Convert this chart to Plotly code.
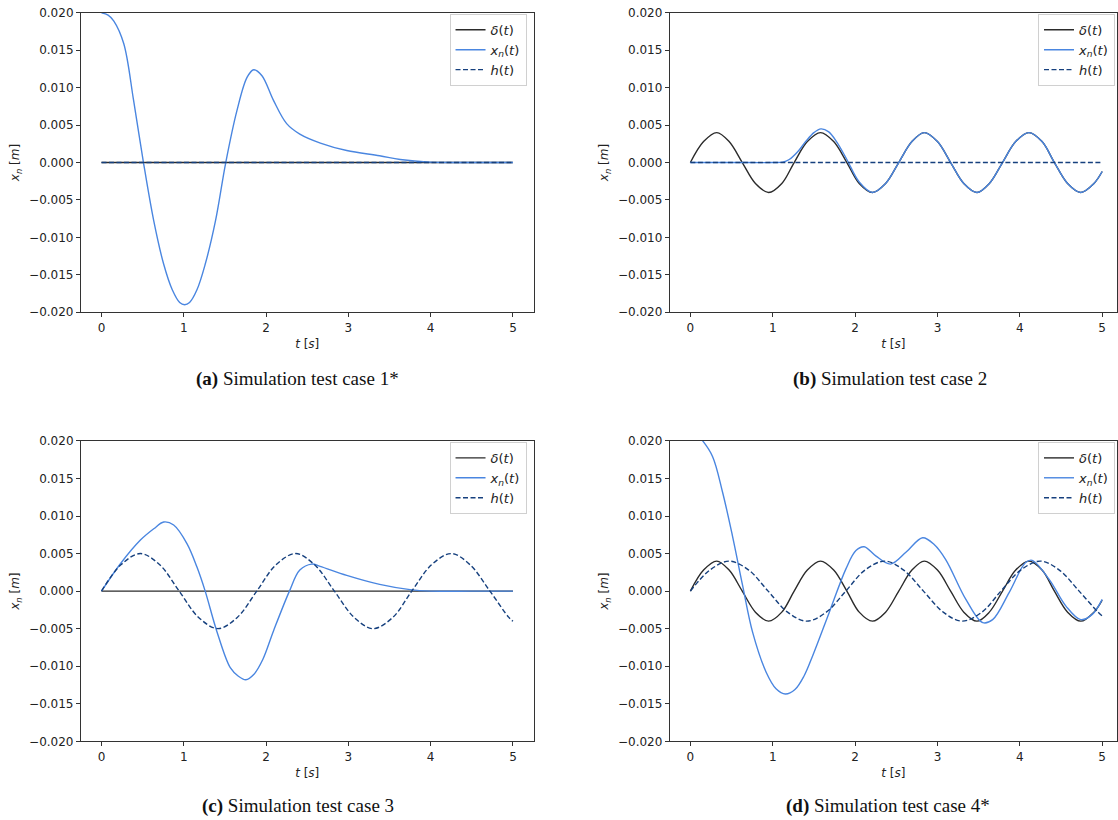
import plotly.graph_objects as go

# ---------------- data ----------------
# Panel (a) - test case 1*
a_t_zero = [0.0, 5.0]
a_delta = [0.0, 0.0]
a_h = [0.0, 0.0]
a_t_x = [0.0, 0.08, 0.15, 0.27, 0.39, 0.51, 0.635, 0.756, 0.86, 0.95, 1.01, 1.07, 1.16,
         1.26, 1.385, 1.51, 1.645, 1.77, 1.85, 1.95, 2.09, 2.25, 2.41, 2.66, 2.98, 3.38,
         3.63, 3.99, 4.5, 5.0]
a_x = [0.0200, 0.0197, 0.0189, 0.0159, 0.0083, 0.0, -0.0078, -0.0136, -0.0170, -0.0187,
       -0.0190, -0.0187, -0.0170, -0.0136, -0.0078, 0.0, 0.0069, 0.0114, 0.0124, 0.0116,
       0.0083, 0.0052, 0.0038, 0.0026, 0.0016, 0.0009, 0.0004, 0.00005, 0.0, 0.0]

# Panels (b) and (d) - road input delta(t)
bd_t_delta = [0.0, 0.16, 0.32, 0.47, 0.63, 0.79, 0.95, 1.11, 1.26, 1.42, 1.58, 1.74,
              1.90, 2.05, 2.21, 2.37, 2.53, 2.69, 2.84, 3.00, 3.16, 3.32, 3.48, 3.63,
              3.79, 3.95, 4.11, 4.27, 4.42, 4.58, 4.74, 4.90, 5.0]
bd_delta = [0.0, 0.0028, 0.0040, 0.0028, 0.0, -0.0028, -0.0040, -0.0028, 0.0, 0.0028,
            0.0040, 0.0028, 0.0, -0.0028, -0.0040, -0.0028, 0.0, 0.0028, 0.0040, 0.0028,
            0.0, -0.0028, -0.0040, -0.0028, 0.0, 0.0028, 0.0040, 0.0028, 0.0, -0.0028,
            -0.0040, -0.0028, -0.0012]

# Panel (b) - test case 2
b_t_x = [0.0, 0.5, 1.0, 1.12, 1.2, 1.3, 1.4, 1.5, 1.585, 1.68, 1.78, 1.90, 2.05, 2.21,
         2.37, 2.53, 2.69, 2.84, 3.00, 3.16, 3.32, 3.48, 3.63, 3.79, 3.95, 4.11, 4.27,
         4.42, 4.58, 4.74, 4.90, 5.0]
b_x = [0.0, 0.0, 0.0, 0.00005, 0.0004, 0.0014, 0.0028, 0.0040, 0.0045, 0.0041, 0.0027,
       0.0004, -0.0026, -0.0040, -0.0028, 0.0, 0.0028, 0.0040, 0.0028, 0.0, -0.0028,
       -0.0040, -0.0028, 0.0, 0.0028, 0.0040, 0.0028, 0.0, -0.0028, -0.0040, -0.0028,
       -0.0012]
b_t_zero = [0.0, 5.0]
b_h = [0.0, 0.0]

# Panel (c) - test case 3
c_t_zero = [0.0, 5.0]
c_delta = [0.0, 0.0]
c_t_h = [0.0, 0.236, 0.472, 0.708, 0.944, 1.18, 1.415, 1.65, 1.887, 2.12, 2.36, 2.59,
         2.83, 3.07, 3.30, 3.54, 3.77, 4.01, 4.25, 4.48, 4.72, 4.95, 5.0]
c_h = [0.0, 0.0035, 0.0050, 0.0035, 0.0, -0.0035, -0.0050, -0.0035, 0.0, 0.0035, 0.0050,
       0.0035, 0.0, -0.0035, -0.0050, -0.0035, 0.0, 0.0035, 0.0050, 0.0035, 0.0,
       -0.0035, -0.0040]
c_t_x = [0.0, 0.23, 0.473, 0.635, 0.756, 0.877, 1.04, 1.16, 1.26, 1.40, 1.565, 1.66,
         1.754, 1.85, 1.96, 2.09, 2.284, 2.41, 2.555, 2.656, 2.98, 3.38, 3.75, 4.0, 4.5,
         5.0]
c_x = [0.0, 0.00365, 0.0068, 0.0083, 0.0092, 0.0088, 0.0063, 0.0032, 0.0, -0.0053,
       -0.0102, -0.0113, -0.0118, -0.0111, -0.0091, -0.0053, 0.0, 0.0028, 0.0036, 0.0033,
       0.0021, 0.0009, 0.0002, 0.0, 0.0, 0.0]

# Panel (d) - test case 4*
d_t_h = c_t_h
d_h = [0.0, 0.0028, 0.0040, 0.0028, 0.0, -0.0028, -0.0040, -0.0028, 0.0, 0.0028, 0.0040,
       0.0028, 0.0, -0.0028, -0.0040, -0.0028, 0.0, 0.0028, 0.0040, 0.0028, 0.0,
       -0.0028, -0.0033]
d_t_x = [0.0, 0.07, 0.15, 0.27, 0.39, 0.51, 0.635, 0.756, 0.92, 1.04, 1.153, 1.27, 1.38,
         1.485, 1.687, 1.89, 2.01, 2.11, 2.25, 2.43, 2.62, 2.82, 2.96, 3.10, 3.345, 3.55,
         3.67, 3.87, 4.07, 4.15, 4.36, 4.56, 4.74, 4.88, 5.0]
d_x = [0.0212, 0.0209, 0.0200, 0.0179, 0.0132, 0.0074, 0.0007, -0.0055, -0.0108, -0.0130,
       -0.0137, -0.0131, -0.0113, -0.0086, -0.0028, 0.0030, 0.0054, 0.0059, 0.0047,
       0.0036, 0.0052, 0.0071, 0.0062, 0.0042, -0.0011, -0.0042, -0.0038, -0.0002,
       0.0038, 0.0041, 0.0015, -0.0020, -0.0038, -0.0031, -0.0011]

captions = ["<b>(a)</b> Simulation test case 1*", "<b>(b)</b> Simulation test case 2",
            "<b>(c)</b> Simulation test case 3", "<b>(d)</b> Simulation test case 4*"]
names = ["<i>δ</i>(<i>t</i>)", "<i>x<sub>n</sub></i>(<i>t</i>)", "<i>h</i>(<i>t</i>)"]

# ---------------- styling ----------------
W, H = 1118, 820
C_DELTA = "#2b2b2b"
C_X = "#4a86e0"
C_H = "#16407e"
FONT = "DejaVu Sans"


def fy(py):
    # vertical pixel position compensated for the capture's vertical compression
    return H / 2 + (py - H / 2) / 0.985


panels = [
    (a_t_zero, a_delta, a_t_x, a_x, a_t_zero, a_h),
    (bd_t_delta, bd_delta, b_t_x, b_x, b_t_zero, b_h),
    (c_t_zero, c_delta, c_t_x, c_x, c_t_h, c_h),
    (bd_t_delta, bd_delta, d_t_x, d_x, d_t_h, d_h),
]

# pixel boxes of the plot areas: (left, right, top, bottom) and x-range upper end
boxes = [
    (81, 534, 12, 312, 5.25),
    (670.4, 1118, 12, 312, 5.18),
    (81, 534, 441, 742, 5.25),
    (670.4, 1118, 441, 742, 5.18),
]
legend_pos = [(527, 13), (1116, 13), (527, 442), (1116, 442)]
caption_pos = [(298, 379), (891, 379), (298, 807), (889, 807)]

fig = go.Figure()
layout = dict(
    width=W, height=H, margin=dict(l=0, r=0, t=0, b=0), autosize=False,
    paper_bgcolor="white", plot_bgcolor="white",
    font=dict(family=FONT, size=12, color="#222"),
    annotations=[],
)

for i, (td, yd, tx, yx, th, yh) in enumerate(panels):
    k = "" if i == 0 else str(i + 1)
    xa, ya = "x" + k, "y" + k
    lg = "legend" + k
    spline = dict(shape="spline", smoothing=1.0)
    fig.add_trace(go.Scatter(x=td, y=yd, mode="lines", name=names[0], xaxis=xa, yaxis=ya,
                             legend=lg, line=dict(color=C_DELTA, width=1.4, **spline)))
    fig.add_trace(go.Scatter(x=tx, y=yx, mode="lines", name=names[1], xaxis=xa, yaxis=ya,
                             legend=lg, line=dict(color=C_X, width=1.4, **spline)))
    fig.add_trace(go.Scatter(x=th, y=yh, mode="lines", name=names[2], xaxis=xa, yaxis=ya,
                             legend=lg, line=dict(color=C_H, width=1.4, dash="5px,2.5px", **spline)))

    l, r, t, b, xmax = boxes[i]
    axis_common = dict(showgrid=False, zeroline=False, showline=True, linecolor="#333",
                       linewidth=1, mirror=True, ticks="outside", ticklen=4,
                       tickcolor="#333", tickfont=dict(family=FONT, size=12, color="#222"))
    layout["xaxis" + k] = dict(
        domain=[l / W, r / W], range=[-0.25, xmax], anchor=ya,
        tickvals=[0, 1, 2, 3, 4, 5], ticktext=["0", "1", "2", "3", "4", "5"],
        title=dict(text="<i>t</i> [<i>s</i>]", standoff=5,
                   font=dict(family=FONT, size=12, color="#222")),
        **axis_common)
    layout["yaxis" + k] = dict(
        domain=[1 - fy(b) / H, 1 - fy(t) / H], range=[-0.02, 0.02], anchor=xa,
        tickvals=[-0.02, -0.015, -0.01, -0.005, 0, 0.005, 0.01, 0.015, 0.02],
        tickformat=".3f",
        title=dict(text="<i>x<sub>n</sub></i> [<i>m</i>]", standoff=6,
                   font=dict(family=FONT, size=12, color="#222")),
        **axis_common)
    lx, ly = legend_pos[i]
    layout[lg] = dict(
        x=lx / W, y=1 - fy(ly) / H, xanchor="right", yanchor="top",
        bgcolor="rgba(255,255,255,0.85)", bordercolor="#d0d0d0", borderwidth=1,
        font=dict(family=FONT, size=13, color="#222"), itemwidth=30,
        tracegroupgap=0,
    )
    cx, cy = caption_pos[i]
    layout["annotations"].append(dict(
        text=captions[i], x=cx / W, y=1 - fy(cy) / H, xref="paper", yref="paper",
        xanchor="center", yanchor="middle", showarrow=False,
        font=dict(family="Liberation Serif", size=19, color="#111")))

fig.update_layout(**layout)
fig.write_html(
    "out.html",
    config={"displayModeBar": False},
    post_script="document.body.style.margin='0px';document.body.style.overflow='hidden';",
)
